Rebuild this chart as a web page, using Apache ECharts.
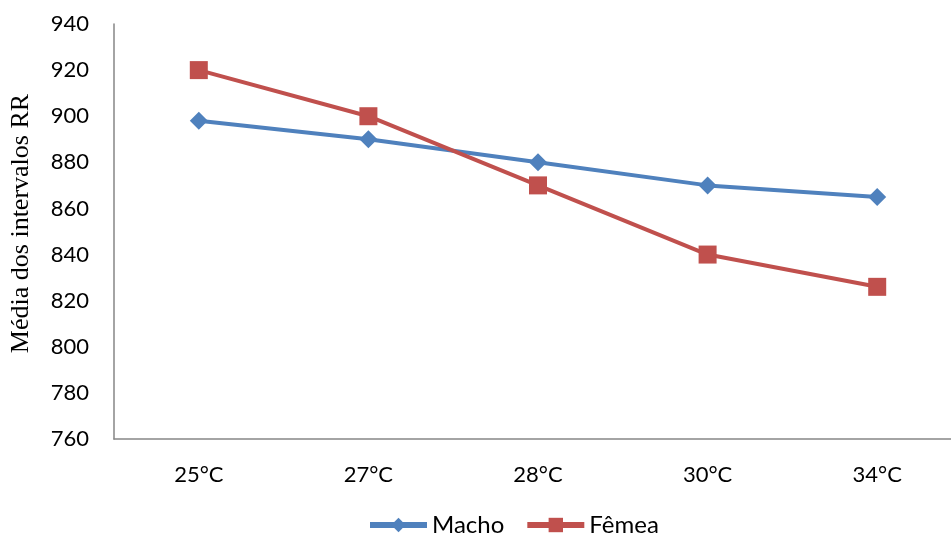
<!DOCTYPE html>
<html>
<head>
<meta charset="utf-8">
<script src="https://cdn.jsdelivr.net/npm/echarts@6.0.0/dist/echarts.min.js"></script>
<style>
  html, body { margin: 0; padding: 0; background: #fff; }
  #chart { width: 951px; height: 543px; }
</style>
</head>
<body>
<div id="chart"></div>
<script>
  var temperaturas = ['25°C', '27°C', '28°C', '30°C', '34°C'];
  var macho = [898, 890, 880, 870, 865];
  var femea = [920, 900, 870, 840, 826];

  var chart = echarts.init(document.getElementById('chart'));
  chart.setOption({
    animation: false,
    grid: { left: 114, top: 24, width: 848, height: 415, outerBoundsMode: 'none', containLabel: false },
    legend: {
      bottom: 1,
      left: 362,
      itemWidth: 57,
      itemHeight: 18,
      itemGap: 20,
      lineStyle: { width: 6 },
      textStyle: { fontFamily: 'Lato', fontSize: 24, color: '#000' },
      data: ['Macho', 'Fêmea']
    },
    xAxis: {
      type: 'category',
      data: temperaturas,
      axisLine: { lineStyle: { color: '#868686', width: 1.5 } },
      axisTick: { show: false },
      axisLabel: { color: '#000', fontFamily: 'Lato', fontSize: 22, margin: 25 }
    },
    yAxis: {
      type: 'value',
      min: 760,
      max: 940,
      interval: 20,
      name: 'Média dos intervalos RR',
      nameLocation: 'middle',
      nameGap: 80,
      nameTextStyle: { fontFamily: 'Liberation Serif', fontSize: 26, color: '#000', padding: [0, 0, 0, 16] },
      axisLine: { show: true, lineStyle: { color: '#868686', width: 1.5 } },
      axisTick: { show: false },
      splitLine: { show: false },
      axisLabel: { color: '#000', fontFamily: 'Lato', fontSize: 22, margin: 25 }
    },
    series: [
      {
        name: 'Macho',
        type: 'line',
        data: macho,
        symbol: 'diamond',
        symbolSize: 18,
        lineStyle: { width: 4, color: '#4F81BD' },
        itemStyle: { color: '#4F81BD' }
      },
      {
        name: 'Fêmea',
        type: 'line',
        data: femea,
        symbol: 'rect',
        symbolSize: 18,
        lineStyle: { width: 4, color: '#C0504D' },
        itemStyle: { color: '#C0504D' }
      }
    ]
  });
</script>
</body>
</html>
